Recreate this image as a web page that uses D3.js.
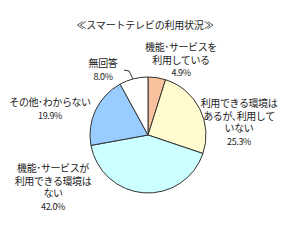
<!DOCTYPE html>
<html>
<head>
<meta charset="utf-8">
<script src="https://cdn.jsdelivr.net/npm/d3@7"></script>
<style>
body { margin: 0; background: #fff; }
text { font-family: "Noto Sans CJK JP", sans-serif; fill: #222; }
</style>
</head>
<body>
<svg width="290" height="240"></svg>
<script>
var categories = ["機能・サービスを利用している", "利用できる環境はあるが、利用していない", "機能・サービスが利用できる環境はない", "その他・わからない", "無回答"];
var values = [4.9, 25.3, 42.0, 19.9, 8.0];
var colors = ["#F8C29C", "#FFFBCE", "#CCFFFF", "#99CCFF", "#FFFFFF"];
// label lines, split as in the picture
var labelLines = [
    ["機能･サービスを", "利用している", "4.9%"],
    ["利用できる環境は", "あるが､利用して", "いない", "25.3%"],
    ["機能･サービスが", "利用できる環境は", "ない", "42.0%"],
    ["その他･わからない", "19.9%"],
    ["無回答", "8.0%"]
];
var labelPos = [[181, 51], [239, 107], [53, 172], [50, 106], [103, 67]];

var svg = d3.select("svg");
var cx = 148, cy = 135, r = 58;

svg.append("text")
    .attr("x", 145).attr("y", 29)
    .attr("text-anchor", "middle")
    .attr("font-size", 10)
    .attr("letter-spacing", -0.2)
    .text("≪スマートテレビの利用状況≫");

var pie = d3.pie().sort(null).value(function (d) { return d; });
var arc = d3.arc().innerRadius(0).outerRadius(r);

var g = svg.append("g").attr("transform", "translate(" + cx + "," + cy + ")");
g.selectAll("path")
    .data(pie(values))
    .enter().append("path")
    .attr("d", arc)
    .attr("fill", function (d, i) { return colors[i]; })
    .attr("stroke", "#333")
    .attr("stroke-width", 1);

// leader for 無回答
svg.append("path")
    .attr("d", "M124,70 L129,71 L133,79")
    .attr("fill", "none")
    .attr("stroke", "#333")
    .attr("stroke-width", 1);

labelLines.forEach(function (lines, i) {
    var t = svg.append("text")
        .attr("x", labelPos[i][0])
        .attr("y", labelPos[i][1])
        .attr("text-anchor", "middle")
        .attr("font-size", 10)
        .attr("letter-spacing", -0.4);
    lines.forEach(function (s, j) {
        var isPct = j == lines.length - 1;
        t.append("tspan")
            .attr("x", labelPos[i][0])
            .attr("dy", j == 0 ? 0 : 12.5)
            .attr("font-size", isPct ? 9 : 10)
            .text(s);
    });
});
</script>
</body>
</html>
